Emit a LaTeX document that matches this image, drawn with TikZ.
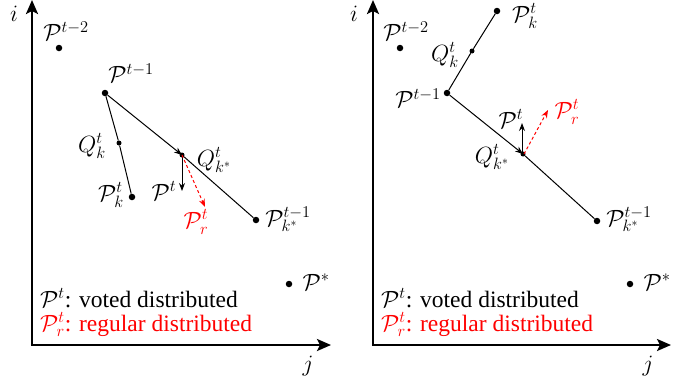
\RequirePackage{fix-cm}
\documentclass[tikz,border=0pt]{standalone}
\usepackage{fontspec}
\setmainfont{Liberation Serif}
\usetikzlibrary{arrows.meta}
\begin{document}
\begin{tikzpicture}[x=1pt,y=-1pt,
  dot/.style={circle,fill=black,inner sep=0pt,minimum size=6.5pt},
  sdot/.style={circle,fill=black,inner sep=0pt,minimum size=5pt},
  lbl/.style={inner sep=0pt,font=\rmfamily\fontsize{23.5}{27}\selectfont},
  axis/.style={line width=2.4pt,-{Stealth[length=14pt,width=12pt,inset=3pt]}},
  conn/.style={line width=1pt},
  arr/.style={line width=1pt,-{Stealth[length=8pt,width=6pt]}},
  rarr/.style={line width=1pt,red,dashed,dash pattern=on 3pt off 2.5pt,-{Stealth[length=8pt,width=6pt]}}]
\useasboundingbox (0,0) rectangle (695,380);
% ---------- left panel ----------
\coordinate (LO) at (32,345);
\coordinate (LI) at (32,0);
\coordinate (LJ) at (331,345);
\draw[axis] (LO) -- (LI);
\draw[axis] ([xshift=-1.2pt]LO) -- (LJ);
\node[lbl] (Li) at (14,14) {$i$};
\node[lbl] (Lj) at (308,366) {$j$};
\node[dot] (Lp2) at (59,48) {};
\node[dot] (Lp1) at (105,93) {};
\node[sdot] (Lqk) at (119,143) {};
\node[dot] (Lpk) at (132,197) {};
\node[sdot] (Lqs) at (182,155) {};
\node[dot] (Lps) at (256,220) {};
\node[dot] (Lpst) at (289,284) {};
\coordinate (Lpt) at (182,191);
\coordinate (Lpr) at (205,207);
\draw[conn] (Lp1) -- (Lqk) -- (Lpk);
\draw[arr] (Lp1) -- (Lqs.center);
\draw[conn] (Lqs) -- (Lps);
\draw[arr] (Lqs.center) -- (Lpt);
\draw[rarr] (Lqs.center) -- (Lpr);
\node[lbl] (Lp2l) at (66,31) {$\mathcal{P}^{t-2}$};
\node[lbl] (Lp1l) at (131,73) {$\mathcal{P}^{t-1}$};
\node[lbl] (Lqkl) at (92,146) {$Q^t_k$};
\node[lbl] (Lqsl) at (214,160) {$Q^t_{k^*}$};
\node[lbl] (Lpkl) at (111,195) {$\mathcal{P}^t_k$};
\node[lbl] (Lptl) at (164,191) {$\mathcal{P}^t$};
\node[lbl,red] (Lprl) at (196,222) {$\mathcal{P}^t_r$};
\node[lbl] (Lpsl) at (288,219) {$\mathcal{P}^{t-1}_{k^*}$};
\node[lbl] (Lpstl) at (316,282) {$\mathcal{P}^*$};
\node[lbl,anchor=base west] (Lleg1) at (40,307) {$\mathcal{P}^t$: voted distributed};
\node[lbl,anchor=base west,red] (Lleg2) at (40,331) {$\mathcal{P}^t_r$: regular distributed};
% ---------- right panel ----------
\coordinate (RO) at (373,345);
\coordinate (RI) at (373,0);
\coordinate (RJ) at (671,345);
\draw[axis] (RO) -- (RI);
\draw[axis] ([xshift=-1.2pt]RO) -- (RJ);
\node[lbl] (Ri) at (354,14) {$i$};
\node[lbl] (Rj) at (648,366) {$j$};
\node[dot] (Rp2) at (400,48) {};
\node[dot] (Rpk) at (497,11) {};
\node[sdot] (Rqk) at (472,51) {};
\node[dot] (Rp1) at (447,93) {};
\node[sdot] (Rqs) at (523,154) {};
\node[dot] (Rps) at (597,221) {};
\node[dot] (Rpst) at (630,284) {};
\coordinate (Rpt) at (522,123);
\coordinate (Rpr) at (548,110);
\draw[conn] (Rp1) -- (Rqk) -- (Rpk);
\draw[arr] (Rp1) -- (Rqs.center);
\draw[conn] (Rqs) -- (Rps);
\draw[arr] ([xshift=-1pt]Rqs.center) -- (Rpt);
\draw[rarr] ([xshift=1pt]Rqs.center) -- (Rpr);
\node[lbl] (Rp2l) at (406,31) {$\mathcal{P}^{t-2}$};
\node[lbl] (Rpkl) at (525,16) {$\mathcal{P}^t_k$};
\node[lbl] (Rqkl) at (445,55) {$Q^t_k$};
\node[lbl] (Rp1l) at (418,98) {$\mathcal{P}^{t-1}$};
\node[lbl] (Rptl) at (511,119) {$\mathcal{P}^t$};
\node[lbl,red] (Rprl) at (567,112) {$\mathcal{P}^t_r$};
\node[lbl] (Rqsl) at (492,157) {$Q^t_{k^*}$};
\node[lbl] (Rpsl) at (629,219) {$\mathcal{P}^{t-1}_{k^*}$};
\node[lbl] (Rpstl) at (657,282) {$\mathcal{P}^*$};
\node[lbl,anchor=base west] (Rleg1) at (381,307) {$\mathcal{P}^t$: voted distributed};
\node[lbl,anchor=base west,red] (Rleg2) at (381,331) {$\mathcal{P}^t_r$: regular distributed};
\end{tikzpicture}
\end{document}
